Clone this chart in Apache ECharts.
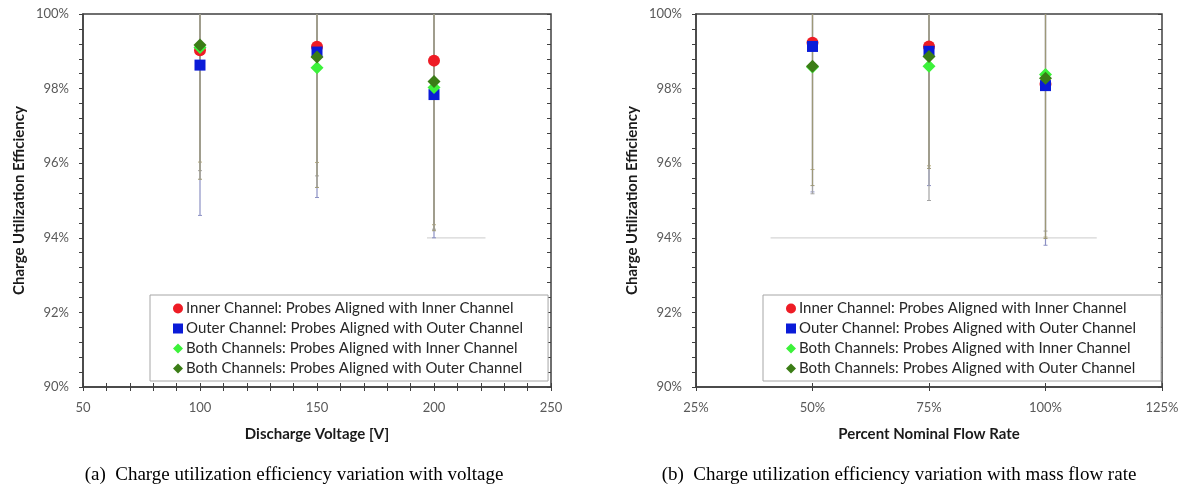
<!DOCTYPE html>
<html>
<head>
<meta charset="utf-8">
<script src="https://cdn.jsdelivr.net/npm/echarts@6/dist/echarts.min.js"></script>
<style>
  html, body { margin: 0; padding: 0; background: #fff; }
  #chart { width: 1183px; height: 491px; }
</style>
</head>
<body>
<div id="chart"></div>
<script>
// ---- data ----
const seriesNames = [
  'Inner Channel: Probes Aligned with Inner Channel',
  'Outer Channel: Probes Aligned with Outer Channel',
  'Both Channels: Probes Aligned with Inner Channel',
  'Both Channels: Probes Aligned with Outer Channel'
];

// (a) efficiency vs discharge voltage
const voltages = [100, 150, 200];
const voltInner      = [99.03, 99.12, 98.75];
const voltOuter      = [98.63, 98.98, 97.84];
const voltBothInner  = [99.10, 98.56, 98.03];
const voltBothOuter  = [99.17, 98.85, 98.19];
// symmetric uncertainty (percentage points)
const voltInnerErr     = [3.0, 3.1, 4.4];
const voltOuterErr     = [4.03, 3.9, 3.84];
const voltBothInnerErr = [3.3, 2.9, 3.8];
const voltBothOuterErr = [3.6, 3.5, 4.0];

// (b) efficiency vs percent nominal flow rate
const flowRates = [50, 75, 100];
const flowInner      = [99.23, 99.13, 98.12];
const flowOuter      = [99.13, 99.00, 98.08];
const flowBothInner  = [98.58, 98.60, 98.38];
const flowBothOuter  = [98.60, 98.86, 98.28];
const flowInnerErr     = [3.4, 3.2, 4.1];
const flowOuterErr     = [3.9, 3.6, 4.28];
const flowBothInnerErr = [3.4, 3.6, 4.2];
const flowBothOuterErr = [3.2, 3.0, 4.3];

// horizontal uncertainty segments at 94 %: [y, xFrom, xTo]
const voltHBar = [94.0, 197, 222];
const flowHBar = [94.0, 41, 111];

const yTicks = { min: 90, max: 100, interval: 2 };
const voltTicks = { min: 50, max: 250, interval: 50 };
const flowTicks = { min: 25, max: 125, interval: 25 };

// ---- styling ----
const markerColors = ['#ee1c25', '#0a1bd8', '#3cf23a', '#3b7d16'];
const markerShapes = ['circle', 'rect', 'diamond', 'diamond'];
const markerSizes = [12, 11, 13, 13];
const errColors = ['#b9ae7c', '#8c91c4', '#a3a3a3', '#9d9878'];
const uiFont = 'Lato';
const axisColor = '#404040';

function zip(xs, ys) { return xs.map((x, i) => [x, ys[i]]); }

function errData(xs, ys, es) {
  return xs.map((x, i) => [x, ys[i], es[i]]);
}

function errorRender(color) {
  return function (params, api) {
    const x = api.value(0), y = api.value(1), e = api.value(2);
    const cs = params.coordSys;
    const top = api.coord([x, y + e]);
    const bot = api.coord([x, y - e]);
    const y1 = Math.max(top[1], cs.y);
    const y2 = Math.min(bot[1], cs.y + cs.height);
    const children = [{
      type: 'line',
      shape: { x1: top[0], y1: y1, x2: top[0], y2: y2 },
      style: { stroke: color, lineWidth: 1.2 }
    }];
    if (bot[1] <= cs.y + cs.height) {
      children.push({
        type: 'line',
        shape: { x1: bot[0] - 2, y1: bot[1], x2: bot[0] + 2, y2: bot[1] },
        style: { stroke: color, lineWidth: 1 }
      });
    }
    return { type: 'group', children: children };
  };
}

function hBarRender(params, api) {
  const a = api.coord([api.value(1), api.value(0)]);
  const b = api.coord([api.value(2), api.value(0)]);
  return {
    type: 'line',
    shape: { x1: a[0], y1: a[1], x2: b[0], y2: b[1] },
    style: { stroke: '#d6d6d6', lineWidth: 1.2 }
  };
}

function xAxes(grid, t, name, fmt) {
  const main = {
    type: 'value', gridIndex: grid, min: t.min, max: t.max, interval: t.interval,
    position: 'bottom',
    axisLine: { show: true, onZero: false, lineStyle: { color: axisColor, width: 1.5 } },
    axisTick: { show: true, length: 4, lineStyle: { color: axisColor } },
    minorTick: { show: grid === 0, splitNumber: 5, length: 4, lineStyle: { color: axisColor } },
    splitLine: { show: false },
    axisLabel: { color: '#595959', fontFamily: uiFont, fontSize: 13, margin: 14, formatter: fmt },
    name: name, nameLocation: 'middle', nameGap: 40,
    nameTextStyle: { fontFamily: uiFont, fontWeight: 'bold', fontSize: 15, color: '#1a1a1a' }
  };
  const inner = {
    type: 'value', gridIndex: grid, min: t.min, max: t.max, interval: t.interval,
    position: 'bottom',
    axisLine: { show: false, onZero: false },
    axisTick: { show: true, inside: true, length: 4, lineStyle: { color: axisColor } },
    minorTick: { show: grid === 0, splitNumber: 5, length: 4, lineStyle: { color: axisColor } },
    splitLine: { show: false },
    axisLabel: { show: false }
  };
  return [main, inner];
}

function yAxes(grid) {
  const main = {
    type: 'value', gridIndex: grid, min: yTicks.min, max: yTicks.max, interval: yTicks.interval,
    axisLine: { show: true, onZero: false, lineStyle: { color: axisColor, width: 1.5 } },
    axisTick: { show: true, length: 4, lineStyle: { color: axisColor } },
    minorTick: { show: true, splitNumber: 5, length: 4, lineStyle: { color: axisColor } },
    splitLine: { show: false },
    axisLabel: { color: '#595959', fontFamily: uiFont, fontSize: 13, margin: 14, formatter: '{value}%' },
    name: 'Charge Utilization Efficiency', nameLocation: 'middle', nameGap: 56, nameRotate: 90,
    nameTextStyle: { fontFamily: uiFont, fontWeight: 'bold', fontSize: 15, color: '#1a1a1a' }
  };
  const inner = {
    type: 'value', gridIndex: grid, min: yTicks.min, max: yTicks.max, interval: yTicks.interval,
    axisLine: { show: false, onZero: false },
    axisTick: { show: true, inside: true, length: 4, lineStyle: { color: axisColor } },
    minorTick: { show: true, splitNumber: 5, length: 4, lineStyle: { color: axisColor } },
    splitLine: { show: false },
    axisLabel: { show: false }
  };
  return [main, inner];
}

const voltSets = [
  [voltInner, voltInnerErr], [voltOuter, voltOuterErr],
  [voltBothInner, voltBothInnerErr], [voltBothOuter, voltBothOuterErr]
];
const flowSets = [
  [flowInner, flowInnerErr], [flowOuter, flowOuterErr],
  [flowBothInner, flowBothInnerErr], [flowBothOuter, flowBothOuterErr]
];

const series = [];
// x axis indices: 0 main (a), 1 inner (a), 2 main (b), 3 inner (b)
[[voltages, voltSets, voltHBar, 0, 0], [flowRates, flowSets, flowHBar, 2, 2]].forEach(([xs, sets, hb, xi, yi]) => {
  series.push({
    type: 'custom', xAxisIndex: xi, yAxisIndex: yi, silent: true, z: 1,
    renderItem: hBarRender, data: [hb]
  });
  sets.forEach(([ys, es], k) => {
    series.push({
      type: 'custom', xAxisIndex: xi, yAxisIndex: yi, silent: true, z: 2,
      renderItem: errorRender(errColors[k]), data: errData(xs, ys, es)
    });
  });
  sets.forEach(([ys], k) => {
    series.push({
      name: seriesNames[k], type: 'scatter', xAxisIndex: xi, yAxisIndex: yi, z: 3,
      symbol: markerShapes[k], symbolSize: markerSizes[k],
      itemStyle: { color: markerColors[k], opacity: 1 },
      data: zip(xs, ys)
    });
  });
});

function legendAt(left) {
  return {
    data: seriesNames.map((n, k) => ({ name: n, icon: markerShapes[k] })),
    orient: 'vertical', left: left, top: 295,
    itemWidth: 10, itemHeight: 10, itemGap: 5,
    padding: [6, 25, 5, 23],
    backgroundColor: '#fff', borderColor: '#a6a6a6', borderWidth: 1, borderRadius: 0,
    textStyle: { fontFamily: uiFont, fontSize: 15, lineHeight: 15, color: '#262626', padding: [0, 0, 0, -2] },
    selectedMode: false
  };
}

const chart = echarts.init(document.getElementById('chart'), null, { renderer: 'canvas' });
chart.setOption({
  backgroundColor: '#fff',
  animation: false,
  grid: [
    { left: 83, top: 14, width: 468, height: 373, show: true, borderColor: axisColor, borderWidth: 1.5, backgroundColor: 'transparent' },
    { left: 696, top: 14, width: 466, height: 373, show: true, borderColor: axisColor, borderWidth: 1.5, backgroundColor: 'transparent' }
  ],
  xAxis: [
    ...xAxes(0, voltTicks, 'Discharge Voltage [V]', '{value}'),
    ...xAxes(1, flowTicks, 'Percent Nominal Flow Rate', '{value}%')
  ],
  yAxis: [...yAxes(0), ...yAxes(1)],
  legend: [legendAt(150), legendAt(763)],
  series: series,
  graphic: [
    { type: 'text', x: 294, y: 475,
      style: { text: '(a)  Charge utilization efficiency variation with voltage', font: '19px "Liberation Serif"', fill: '#000', align: 'center', verticalAlign: 'middle' } },
    { type: 'text', x: 899, y: 475,
      style: { text: '(b)  Charge utilization efficiency variation with mass flow rate', font: '19px "Liberation Serif"', fill: '#000', align: 'center', verticalAlign: 'middle' } }
  ]
});
</script>
</body>
</html>
